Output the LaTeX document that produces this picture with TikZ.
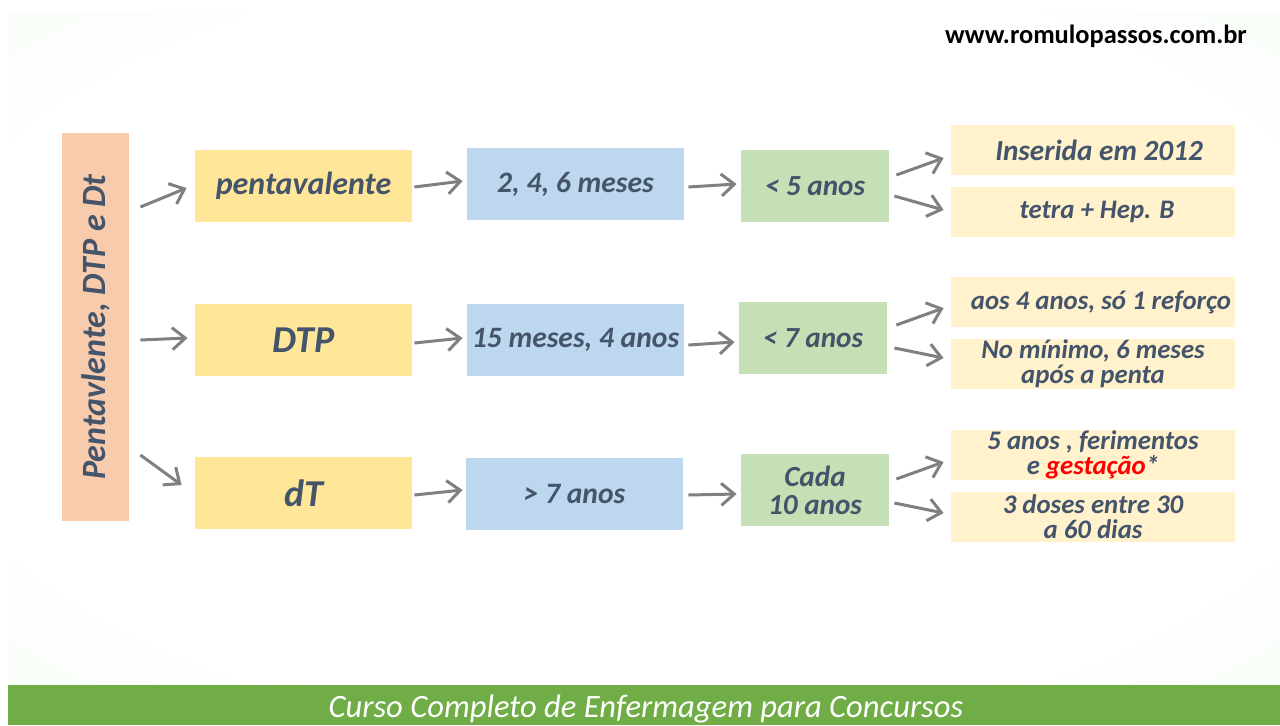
\documentclass[tikz,border=0pt]{standalone}
\usepackage{fontspec}
\setmainfont{Carlito}
\usepackage{tikz}
\usetikzlibrary{arrows.meta,shadings}
\usepackage{xcolor}
\definecolor{slate}{HTML}{44546A}
\definecolor{peach}{HTML}{F8CBAD}
\definecolor{gold}{HTML}{FFE699}
\definecolor{sky}{HTML}{BDD7EE}
\definecolor{leaf}{HTML}{C5E0B4}
\definecolor{cream}{HTML}{FFF2CC}
\definecolor{barcol}{HTML}{70AD47}
\definecolor{mint}{HTML}{E1FADB}
\pgfdeclareradialshading{slidebg}{\pgfpoint{0bp}{0bp}}{color(0bp)=(white); color(28bp)=(white); color(62bp)=(mint); color(72bp)=(mint)}

\begin{document}
\begin{tikzpicture}[x=0.5pt, y=-0.5pt,
  every node/.style = {align=center, text=slate, font=\bfseries\itshape},
  box/.style = {minimum width=108.5pt, minimum height=36pt, inner sep=0pt,
    font=\bfseries\itshape\fontsize{14.8}{16}\selectfont},
  agebox/.style = {minimum width=74pt, minimum height=36pt, inner sep=0pt, fill=leaf,
    font=\bfseries\itshape\fontsize{14.6}{14}\selectfont},
  notebox/.style = {minimum width=142pt, minimum height=25pt, inner sep=0pt, fill=cream,
    font=\bfseries\itshape\fontsize{13.4}{12.5}\selectfont},
  arr/.style = {->, draw=black!50, line width=1.5pt},
  >={Straight Barb[length=6.5pt, width=11pt, line width=1.5pt]}]

\useasboundingbox (0,0) rectangle (1280,725);
\fill[white] (0,0) rectangle (1280,725);
\shade[shading=slidebg] (8,12) rectangle (1280,685);
\fill[barcol] (8,685) rectangle (1280,725);

\node[text=black, font=\bfseries\fontsize{13.2}{14}\selectfont] (site) at (1096,36) {www.romulopassos.com.br};
\node[text=white, font=\itshape\fontsize{16.3}{18}\selectfont] (course) at (646,709) {Curso Completo de Enfermagem para Concursos};

\node[fill=peach, minimum width=33.5pt, minimum height=194pt, inner sep=0pt] (vac) at (95.5,327) {};
\node[rotate=90, font=\bfseries\itshape\fontsize{17}{18}\selectfont] (vactxt) at (vac) {Pentavlente, DTP e Dt};

% pentavalente
\node[box, fill=gold, font=\bfseries\itshape\fontsize{16}{18}\selectfont] (penta) at (303.5,186) {pentavalente};
\node[box, fill=sky] (mesesA) at (575.5,184) {2, 4, 6 meses};
\node[agebox] (anosA) at (815,186) {< 5 anos};
\node[notebox, font=\bfseries\itshape\fontsize{14.6}{14}\selectfont] (insA) at (1093,150) {\hspace{6pt}Inserida em 2012};
\node[notebox] (tetraA) at (1093,212) {\hspace{4pt}tetra + Hep. B};

% DTP
\node[box, fill=gold, font=\bfseries\itshape\fontsize{19}{20}\selectfont] (dtp) at (303.5,340) {DTP};
\node[box, fill=sky] (mesesB) at (575.5,340) {15 meses, 4 anos};
\node[agebox] (anosB) at (813,338) {< 7 anos};
\node[notebox] (aosB) at (1093,302) {\hspace{8pt}aos 4 anos, só 1 reforço};
\node[notebox] (minB) at (1093,364) {No mínimo, 6 meses\\após a penta};

% dT
\node[box, fill=gold, font=\bfseries\itshape\fontsize{19}{20}\selectfont] (dt) at (303.5,493) {dT};
\node[box, fill=sky] (mesesC) at (574.5,494) {> 7 anos};
\node[agebox] (anosC) at (815,490) {Cada\\10 anos};
\node[notebox] (cincoC) at (1093,455) {5 anos , ferimentos\\e \textcolor{red}{gestação}*};
\node[notebox] (tresC) at (1093,517) {3 doses entre 30\\a 60 dias};

\draw[arr] ([shift={(11,-120)}]vac.east) -- ([shift={(-8,2)}]penta.west);
\draw[arr] ([shift={(2,1)}]penta.east) -- ([shift={(-4,-3)}]mesesA.west);
\draw[arr] ([shift={(4,3)}]mesesA.east) -- ([shift={(-4,-2)}]anosA.west);
\draw[arr] ([shift={(7,-11)}]anosA.east) -- ([shift={(-7,8)}]insA.west);
\draw[arr] ([shift={(5,10)}]anosA.east) -- ([shift={(-7,-2)}]tetraA.west);

\draw[arr] ([shift={(11,13)}]vac.east) -- ([shift={(-7,-2)}]dtp.west);
\draw[arr] ([shift={(2,3)}]dtp.east) -- ([shift={(-4,-2)}]mesesB.west);
\draw[arr] ([shift={(4,5)}]mesesB.east) -- ([shift={(-4,4)}]anosB.west);
\draw[arr] ([shift={(9,-13)}]anosB.east) -- ([shift={(-7,6)}]aosB.west);
\draw[arr] ([shift={(7,10)}]anosB.east) -- ([shift={(-7,-6)}]minB.west);

\draw[arr] ([shift={(11,128)}]vac.east) -- ([shift={(-13,-8)}]dt.west);
\draw[arr] ([shift={(2,2)}]dt.east) -- ([shift={(-3,-4)}]mesesC.west);
\draw[arr] ([shift={(5,1)}]mesesC.east) -- ([shift={(-4,4)}]anosC.west);
\draw[arr] ([shift={(7,-11)}]anosC.east) -- ([shift={(-7,7)}]cincoC.west);
\draw[arr] ([shift={(5,13)}]anosC.east) -- ([shift={(-7,-4)}]tresC.west);
\end{tikzpicture}
\end{document}
